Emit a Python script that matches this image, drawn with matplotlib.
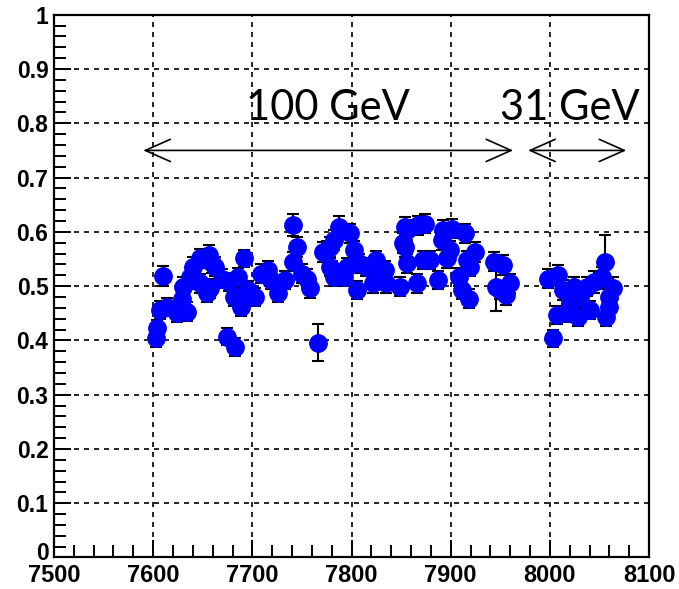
import matplotlib
matplotlib.use("Agg")
import matplotlib.pyplot as plt
import matplotlib.transforms as mtransforms
from matplotlib.ticker import MultipleLocator

# run number, efficiency and error
runs = [7603, 7604, 7607, 7610, 7614, 7624, 7629, 7630, 7634, 7637,
        7640, 7642, 7647, 7647, 7654, 7656, 7657, 7659, 7662, 7669,
        7674, 7676, 7681, 7682, 7686, 7688, 7689, 7692, 7696, 7703,
        7709, 7716, 7719, 7726, 7733, 7741, 7741, 7745, 7750, 7755,
        7758, 7766, 7771, 7775, 7778, 7778, 7780, 7782, 7782, 7787,
        7792, 7795, 7798, 7802, 7805, 7808, 7815, 7822, 7825, 7829,
        7834, 7835, 7849, 7852, 7854, 7856, 7854, 7856, 7866, 7867,
        7874, 7872, 7879, 7887, 7891, 7892, 7896, 7899, 7901, 7908,
        7911, 7914, 7916, 7918, 7919, 7924, 7944, 7946, 7950, 7953,
        7956, 7960,
        7998, 8003, 8007, 8008, 8013, 8017, 8020, 8024, 8028, 8030,
        8037, 8040, 8044, 8052, 8056, 8057, 8060, 8060, 8064]
eff = [0.404, 0.422, 0.456, 0.519, 0.462, 0.450, 0.477, 0.499, 0.453, 0.517,
       0.536, 0.511, 0.551, 0.505, 0.487, 0.557, 0.496, 0.542, 0.536, 0.514,
       0.407, 0.508, 0.480, 0.388, 0.517, 0.480, 0.462, 0.551, 0.493, 0.480,
       0.523, 0.529, 0.511, 0.487, 0.511, 0.545, 0.612, 0.572, 0.523, 0.514,
       0.496, 0.396, 0.563, 0.566, 0.572, 0.535, 0.529, 0.585, 0.517, 0.609,
       0.517, 0.535, 0.597, 0.566, 0.493, 0.542, 0.535, 0.505, 0.548, 0.517,
       0.529, 0.505, 0.499, 0.579, 0.609, 0.603, 0.572, 0.542, 0.505, 0.612,
       0.615, 0.548, 0.548, 0.511, 0.585, 0.603, 0.551, 0.566, 0.606, 0.517,
       0.493, 0.597, 0.548, 0.477, 0.535, 0.563, 0.545, 0.499, 0.493, 0.539,
       0.483, 0.505,
       0.514, 0.404, 0.447, 0.520, 0.493, 0.450, 0.468, 0.499, 0.443, 0.480,
       0.499, 0.456, 0.508, 0.517, 0.545, 0.443, 0.462, 0.480, 0.496]
err = [0.016, 0.016, 0.016, 0.018, 0.017, 0.016, 0.017, 0.017, 0.017, 0.017,
       0.017, 0.017, 0.018, 0.017, 0.017, 0.018, 0.017, 0.017, 0.017, 0.017,
       0.016, 0.017, 0.017, 0.016, 0.017, 0.017, 0.017, 0.016, 0.017, 0.017,
       0.018, 0.017, 0.017, 0.017, 0.017, 0.018, 0.020, 0.018, 0.017, 0.017,
       0.017, 0.034, 0.018, 0.018, 0.018, 0.017, 0.017, 0.018, 0.017, 0.020,
       0.017, 0.017, 0.018, 0.018, 0.017, 0.017, 0.017, 0.017, 0.017, 0.017,
       0.017, 0.017, 0.017, 0.018, 0.018, 0.018, 0.018, 0.017, 0.017, 0.018,
       0.018, 0.017, 0.017, 0.017, 0.018, 0.018, 0.017, 0.018, 0.018, 0.017,
       0.017, 0.018, 0.017, 0.017, 0.017, 0.018, 0.018, 0.045, 0.017, 0.018,
       0.017, 0.017,
       0.018, 0.016, 0.017, 0.018, 0.018, 0.017, 0.017, 0.018, 0.017, 0.018,
       0.018, 0.017, 0.020, 0.018, 0.050, 0.017, 0.017, 0.018, 0.020]

fig = plt.figure(figsize=(6.79, 5.89), dpi=100)
ax = fig.add_axes([0.0795, 0.0535, 0.8765, 0.9215])

ax.errorbar(runs, eff, yerr=err, fmt='none', ecolor='black', elinewidth=1.5,
            capsize=4, capthick=1.5, zorder=2)
ax.plot(runs, eff, 'o', color='#0000ff', markersize=12.5, zorder=3)

ax.set_xlim(7500, 8100)
ax.set_ylim(0, 1)
ax.xaxis.set_major_locator(MultipleLocator(100))
ax.xaxis.set_minor_locator(MultipleLocator(20))
ax.yaxis.set_minor_locator(MultipleLocator(0.02))
ax.set_yticks([0, 0.1, 0.2, 0.3, 0.4, 0.5, 0.6, 0.7, 0.8, 0.9, 1])
ax.set_yticklabels(['0', '0.1', '0.2', '0.3', '0.4', '0.5', '0.6', '0.7', '0.8', '0.9', '1'])

ax.grid(True, which='major', color='black', linestyle=(0, (3, 3)), linewidth=1.2)
ax.tick_params(which='both', direction='in', width=1.4, top=False, right=False)
ax.tick_params(which='major', length=12)
ax.tick_params(which='minor', length=8.5)
ax.tick_params(axis='y', pad=4)
ax.tick_params(axis='x', pad=5)
for lab in ax.get_xticklabels():
    lab.set_fontfamily('Liberation Sans')
    lab.set_fontweight('bold')
    lab.set_fontsize(17)
for lab in ax.get_yticklabels():
    lab.set_fontfamily('Liberation Sans')
    lab.set_fontweight('bold')
    lab.set_fontsize(16.5)
# lift the "0" a little so it sits clear of "7500"
zero_lab = ax.get_yticklabels()[0]
zero_lab.set_transform(zero_lab.get_transform() +
                       mtransforms.ScaledTranslation(0, 5 / 72, fig.dpi_scale_trans))
for sp in ax.spines.values():
    sp.set_linewidth(1.6)

# beam energy ranges
ax.annotate('', xy=(7590, 0.75), xytext=(7963, 0.75),
            arrowprops=dict(arrowstyle='<->,head_length=1.8,head_width=0.8',
                            lw=1.2, color='black', shrinkA=0, shrinkB=0))
ax.annotate('', xy=(7978, 0.75), xytext=(8077, 0.75),
            arrowprops=dict(arrowstyle='<->,head_length=1.8,head_width=0.8',
                            lw=1.2, color='black', shrinkA=0, shrinkB=0))
ax.text(7776, 0.828, '100 GeV', fontsize=30, family='Lato', ha='center', va='center')
ax.text(8020, 0.828, '31 GeV', fontsize=30, family='Lato', ha='center', va='center')

fig.savefig('out.png', dpi=100)
